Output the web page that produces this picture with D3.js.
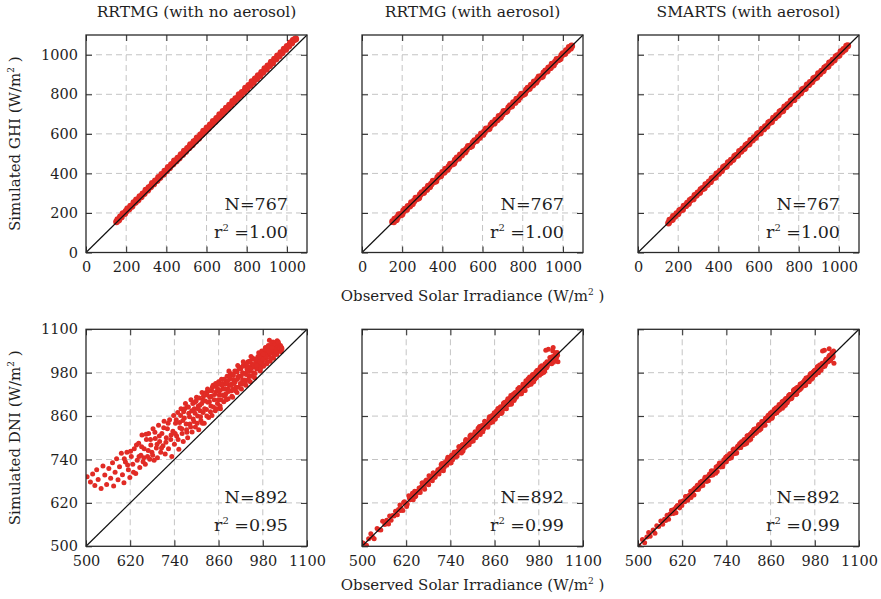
<!DOCTYPE html>
<html>
<head>
<meta charset="utf-8">
<script src="https://cdn.jsdelivr.net/npm/d3@7"></script>
<style>
  body { margin: 0; background: #fff; }
  svg { display: block; }
  text { font-family: "DejaVu Serif", serif; fill: #1f1f1f; }
</style>
</head>
<body>
<svg id="chart" width="881" height="599"></svg>
<script>
// ---- GHI (top row): observed vs. simulated, W/m2 ----
const ghiObserved = [
  152, 158, 163, 171, 176, 184, 193, 199, 207, 214,
  222, 229, 238, 246, 251, 259, 268, 275, 283, 290,
  298, 307, 313, 322, 330, 337, 345, 354, 361, 368,
  377, 385, 392, 401, 409, 416, 425, 433, 440, 449,
  457, 464, 473, 481, 489, 496, 505, 513, 520, 529,
  537, 546, 553, 561, 570, 578, 585, 594, 602, 609,
  618, 626, 633, 642, 650, 658, 665, 674, 682, 689,
  698, 706, 714, 721, 730, 738, 745, 754, 762, 770,
  777, 786, 794, 801, 810, 818, 826, 833, 842, 850,
  857, 866, 874, 881, 890, 898, 905, 914, 922, 929,
  938, 946, 953, 962, 970, 977, 986, 994, 1001, 1010,
  1017, 1024, 1031, 1038, 1044
];
const ghiRrtmgNoAerosol = [
  155, 166, 165, 180, 180, 196, 197, 208, 220, 220,
  234, 234, 252, 254, 266, 266, 283, 282, 297, 298,
  315, 315, 328, 333, 349, 347, 362, 364, 380, 379,
  395, 396, 411, 413, 430, 428, 444, 448, 463, 463,
  477, 478, 495, 496, 513, 511, 527, 530, 546, 545,
  561, 564, 579, 578, 595, 598, 614, 613, 630, 628,
  645, 647, 663, 662, 678, 680, 697, 695, 713, 712,
  730, 728, 745, 745, 764, 762, 778, 779, 798, 795,
  810, 812, 831, 827, 845, 845, 864, 860, 878, 879,
  895, 894, 911, 911, 930, 927, 944, 945, 963, 959,
  978, 978, 994, 994, 1011, 1010, 1029, 1027, 1042, 1044,
  1060, 1060, 1073, 1077, 1080
];
const ghiRrtmgAerosol = [
  156, 155, 169, 166, 177, 191, 191, 193, 210, 219,
  218, 233, 235, 252, 246, 260, 275, 273, 277, 293,
  303, 303, 317, 319, 336, 332, 346, 361, 359, 362,
  380, 390, 388, 405, 406, 422, 420, 434, 447, 447,
  451, 467, 478, 477, 493, 493, 511, 508, 521, 536,
  535, 540, 556, 566, 566, 582, 582, 600, 597, 610,
  625, 624, 627, 645, 655, 654, 669, 671, 688, 684,
  699, 713, 712, 715, 733, 743, 741, 758, 759, 776,
  772, 787, 801, 799, 804, 821, 831, 829, 846, 847,
  863, 861, 875, 888, 888, 892, 908, 919, 918, 933,
  935, 952, 948, 963, 977, 975, 980, 997, 1006, 1006,
  1021, 1021, 1037, 1033, 1045
];
const ghiSmartsAerosol = [
  149, 163, 165, 167, 182, 183, 196, 196, 212, 216,
  218, 235, 237, 249, 248, 264, 270, 271, 289, 289,
  301, 304, 318, 324, 326, 343, 344, 357, 358, 373,
  379, 381, 398, 400, 412, 413, 430, 435, 436, 455,
  456, 467, 470, 486, 491, 492, 511, 512, 523, 526,
  542, 548, 549, 567, 569, 581, 582, 599, 604, 605,
  624, 625, 636, 639, 655, 660, 661, 680, 681, 692,
  695, 711, 716, 717, 736, 737, 748, 751, 767, 772,
  773, 792, 793, 804, 807, 823, 828, 829, 848, 849,
  860, 863, 879, 883, 886, 904, 904, 917, 919, 934,
  940, 942, 959, 961, 973, 974, 991, 996, 997, 1016,
  1016, 1027, 1028, 1043, 1046
];

// ---- DNI (bottom row): observed vs. simulated, W/m2 ----
const dniObserved = [
  503, 512, 518, 524, 529, 533, 541, 546, 551, 556, 562, 567,
  572, 575, 579, 583, 587, 591, 596, 599, 603, 607, 611, 615, 619, 623, 627, 631, 635, 639,
  643, 646, 649, 652, 655, 658, 661, 664, 667, 670, 673, 676, 679, 682, 685, 688, 691,
  694, 697, 700, 703, 706, 709, 712, 715, 718, 721, 724, 727, 730, 733, 736, 738, 740,
  743, 746, 749, 752, 755, 758, 761, 764, 767, 770, 773, 776, 779, 782, 785, 788, 791,
  794, 797, 800, 803, 806, 809, 812, 815, 818, 821, 824, 827, 830, 833, 836, 839, 842,
  845, 848, 851, 854, 857, 860, 805, 817, 829, 841, 853, 765, 775, 795, 810, 835,
  862, 865, 868, 871, 874, 877, 880, 883, 886, 889, 892, 895, 898, 901, 904, 907, 910,
  913, 916, 919, 922, 925, 928, 931, 934, 937, 940, 943, 946, 949, 952, 955, 958,
  870, 880, 890, 900, 910, 920, 930, 940, 950, 885, 895, 905, 915, 925, 935, 945, 955,
  961, 964, 967, 970, 973, 976, 979, 982, 985, 988, 991, 994, 997, 1000, 1003, 1006,
  1009, 1012, 1015, 1018, 1021, 1024, 1027, 1030, 1032, 965, 975, 983, 993, 1002,
  1008, 1013, 1019, 1023, 998, 987, 978, 968, 990, 1011,
  604, 613, 621, 629, 637, 644, 651, 657, 663, 669, 675, 681, 687, 693, 699, 705, 711, 717, 723, 731,
  742, 745, 750, 754, 757, 760, 763, 768, 772, 774, 778, 781, 784, 787, 790, 793, 796, 799, 802, 804,
  807, 811, 814, 816, 819, 822, 826, 828, 831, 834, 838, 840, 843, 846, 849, 852, 855, 858, 859, 861,
  863, 866, 869, 872, 875, 878, 881, 884, 887, 891, 893, 896, 899, 902, 906, 909, 911, 914, 918, 921,
  923, 926, 929, 933, 936, 938, 941, 944, 947, 951, 953, 956, 959, 864, 876, 888, 899, 912, 927, 948,
  962, 966, 969, 972, 974, 977, 980, 984, 986, 989, 992, 995, 999, 1001, 1004, 1007, 1010, 1014, 1016, 1020,
  1022, 1025, 1028, 1029, 1031, 963, 971, 981, 996, 1005
];
const dniRrtmgNoAerosol = [
  692, 678, 700, 668, 712, 685, 660, 722, 697, 671, 715, 688,
  731, 667, 705, 742, 684, 720, 757, 698, 676, 733, 760, 712, 690, 748, 727, 770, 701, 738,
  785, 718, 752, 808, 734, 770, 727, 795, 748, 812, 741, 780, 760, 825, 738, 798, 772,
  745, 835, 790, 760, 812, 778, 846, 755, 800, 825, 770, 850, 795, 748, 818, 862, 782,
  840, 805, 870, 768, 828, 880, 812, 790, 855, 895, 822, 800, 868, 838, 905, 816, 852,
  880, 830, 912, 860, 822, 890, 848, 925, 870, 840, 902, 878, 935, 856, 912, 888, 862,
  945, 905, 875, 928, 895, 955, 888, 905, 918, 930, 942, 872, 885, 898, 875, 900,
  918, 880, 962, 935, 900, 948, 922, 970, 908, 945, 978, 930, 912, 960, 985, 940, 925,
  968, 995, 950, 935, 980, 1002, 960, 945, 990, 1010, 972, 955, 998, 1018, 980, 965,
  950, 958, 962, 972, 982, 990, 1000, 995, 1005, 935, 948, 955, 970, 960, 975, 985, 995,
  1010, 990, 1025, 1005, 985, 1032, 1012, 998, 1040, 1020, 1005, 1048, 1028, 1012, 1055, 1035,
  1020, 1062, 1045, 1030, 1058, 1040, 1050, 1038, 1046, 1015, 1020, 1028, 1035, 1042,
  1065, 1052, 1068, 1060, 1070, 1050, 1000, 998, 1030, 1048,
  742, 725, 763, 705, 780, 748, 775, 745, 810, 765, 795, 752, 815, 782, 805, 772, 828, 788, 840, 808,
  812, 850, 795, 842, 862, 825, 848, 880, 838, 815, 885, 858, 830, 875, 895, 845, 868, 902, 840, 880,
  910, 858, 895, 840, 915, 880, 925, 860, 898, 930, 872, 915, 940, 885, 920, 950, 880, 935, 905, 948,
  930, 905, 945, 918, 962, 935, 905, 955, 928, 968, 945, 915, 975, 950, 930, 985, 962, 940, 992, 970,
  948, 998, 978, 955, 1005, 985, 962, 1012, 990, 970, 1020, 1000, 978, 888, 915, 985, 935, 1000, 1010, 1025,
  1018, 995, 1035, 1010, 992, 1040, 1018, 1002, 1045, 1025, 1010, 1055, 1035, 1020, 1062, 1042, 1028, 1058, 1038, 1050,
  1065, 1048, 1055, 1040, 1050, 1000, 1025, 1032, 1040, 1050
];
const dniRrtmgAerosol = [
  509, 503, 521, 535, 525, 521, 549, 546, 545, 569, 560, 572,
  562, 584, 572, 585, 584, 597, 587, 602, 614, 603, 599, 623, 619, 617, 640, 629, 640, 629,
  652, 639, 651, 649, 661, 649, 664, 675, 663, 658, 681, 676, 673, 695, 683, 693, 681,
  703, 690, 702, 700, 712, 700, 715, 726, 714, 709, 732, 727, 724, 746, 734, 743, 730,
  752, 739, 751, 749, 761, 749, 764, 775, 763, 758, 781, 776, 773, 795, 783, 793, 781,
  803, 790, 802, 800, 812, 800, 815, 826, 814, 809, 832, 827, 824, 846, 834, 844, 832,
  854, 841, 853, 851, 863, 851, 808, 828, 825, 829, 861, 765, 769, 808, 808, 840,
  852, 874, 861, 873, 871, 883, 871, 886, 897, 885, 880, 903, 898, 895, 917, 905, 915,
  903, 925, 912, 924, 922, 934, 922, 937, 948, 936, 931, 954, 949, 946, 968, 956,
  875, 870, 899, 893, 912, 917, 936, 931, 953, 896, 891, 893, 923, 925, 929, 958, 953,
  966, 954, 976, 963, 975, 973, 985, 973, 988, 999, 987, 982, 1005, 1000, 997, 1045,
  1007, 1017, 1005, 1040, 1014, 1026, 1024, 1036, 1010, 968, 986, 979, 981, 1010,
  1008, 1007, 1050, 1021, 1003, 977, 987, 961, 992, 1008,
  599, 621, 610, 633, 647, 637, 652, 654, 675, 664, 683, 670, 691, 703, 692, 706, 708, 729, 718, 739,
  731, 749, 760, 747, 758, 757, 775, 763, 780, 763, 782, 791, 777, 788, 787, 805, 791, 807, 791, 808,
  817, 804, 815, 813, 831, 817, 834, 817, 835, 844, 831, 841, 840, 858, 844, 860, 844, 862, 869, 854,
  864, 863, 881, 867, 883, 867, 885, 894, 880, 892, 890, 908, 894, 910, 895, 913, 921, 907, 919, 918,
  935, 921, 937, 922, 940, 948, 934, 945, 944, 963, 948, 964, 948, 868, 886, 881, 900, 909, 939, 943,
  970, 955, 973, 982, 967, 978, 977, 996, 981, 997, 981, 999, 1042, 994, 1005, 1004, 1022, 1009, 1024, 1009,
  1026, 1035, 1021, 1030, 1028, 975, 966, 989, 985, 1009
];
const dniSmartsAerosol = [
  501, 519, 510, 526, 538, 528, 545, 536, 557, 555, 570, 561,
  575, 571, 586, 575, 589, 600, 591, 603, 593, 613, 610, 623, 613, 626, 623, 638, 627, 641,
  652, 641, 653, 642, 661, 657, 669, 658, 670, 666, 680, 668, 681, 691, 680, 692, 681,
  700, 696, 708, 697, 709, 705, 719, 707, 720, 730, 719, 731, 720, 739, 735, 746, 734,
  746, 742, 756, 744, 757, 767, 756, 768, 757, 776, 772, 784, 773, 785, 781, 795, 783,
  796, 806, 795, 807, 796, 815, 811, 823, 812, 824, 820, 834, 822, 835, 845, 834, 846,
  835, 854, 850, 862, 851, 863, 801, 824, 821, 843, 862, 760, 779, 785, 816, 834,
  870, 859, 871, 867, 881, 869, 882, 892, 881, 893, 882, 901, 897, 909, 898, 910, 906,
  920, 908, 921, 931, 920, 932, 921, 940, 936, 948, 937, 949, 945, 959, 947, 960,
  879, 875, 894, 890, 916, 919, 938, 934, 953, 881, 902, 897, 917, 934, 930, 949, 945,
  967, 963, 975, 964, 976, 972, 986, 974, 987, 997, 986, 998, 987, 1006, 1002, 1042,
  1003, 1015, 1011, 1025, 1013, 1026, 1036, 1025, 1006, 955, 981, 982, 1001, 996,
  1011, 1009, 1046, 1015, 1000, 996, 973, 972, 980, 1017,
  609, 606, 623, 638, 634, 635, 657, 657, 658, 677, 673, 686, 680, 695, 708, 702, 702, 723, 723, 726,
  750, 743, 755, 747, 759, 769, 760, 759, 778, 774, 773, 789, 782, 792, 783, 795, 805, 796, 793, 810,
  807, 806, 822, 814, 824, 815, 828, 837, 828, 825, 844, 840, 838, 854, 847, 857, 848, 860, 868, 858,
  854, 872, 869, 867, 883, 876, 886, 877, 889, 900, 890, 887, 905, 902, 901, 917, 909, 919, 911, 923,
  932, 923, 920, 939, 936, 933, 949, 942, 952, 944, 955, 965, 956, 855, 882, 888, 894, 920, 925, 953,
  955, 968, 978, 969, 965, 983, 980, 979, 994, 987, 997, 988, 1001, 1040, 1001, 998, 1016, 1014, 1011, 1028,
  1020, 1030, 1021, 1031, 1040, 960, 962, 987, 996, 1000
];

// ---- labels, ticks and fit statistics ----
const panelTitles = ["RRTMG (with no aerosol)", "RRTMG (with aerosol)", "SMARTS (with aerosol)"];
const ghiDomain = [0, 1100];
const ghiTicks = [0, 200, 400, 600, 800, 1000];
const dniDomain = [500, 1100];
const dniTicks = [500, 620, 740, 860, 980, 1100];
const ghiCounts = [767, 767, 767];
const ghiR2 = ["1.00", "1.00", "1.00"];
const dniCounts = [892, 892, 892];
const dniR2 = ["0.95", "0.99", "0.99"];

// ---- layout ----
const svg = d3.select("#chart");
const colLeft = [86, 362, 638];
const colW = 221;
const pointColor = "#e12b25";
const inkColor = "#2a2a2a";

const rowsCfg = [
  { obs: ghiObserved, sims: [ghiRrtmgNoAerosol, ghiRrtmgAerosol, ghiSmartsAerosol],
    domain: ghiDomain, ticks: ghiTicks, counts: ghiCounts, r2: ghiR2,
    yLabel: "Simulated GHI", top: 35, h: 217.5, r: 3.4, xLabelY: 301, titles: true },
  { obs: dniObserved, sims: [dniRrtmgNoAerosol, dniRrtmgAerosol, dniSmartsAerosol],
    domain: dniDomain, ticks: dniTicks, counts: dniCounts, r2: dniR2,
    yLabel: "Simulated DNI", top: 329.3, h: 217, r: 2.5, xLabelY: 590, titles: false }
];

const tickFmt = d3.format("d");

function styleAxis(sel, showText) {
  sel.select(".domain").remove();
  sel.selectAll(".tick line").attr("stroke", inkColor).attr("stroke-width", 1);
  sel.selectAll(".tick text")
    .attr("font-family", "DejaVu Serif, serif")
    .attr("font-size", "14.5px")
    .attr("fill", "#1f1f1f")
    .style("display", showText ? null : "none");
  sel.attr("font-family", null).attr("font-size", null);
}

rowsCfg.forEach((row, ri) => {
  row.sims.forEach((sim, ci) => {
    const g = svg.append("g").attr("transform", `translate(${colLeft[ci]},${row.top})`);
    const x = d3.scaleLinear().domain(row.domain).range([0, colW]);
    const y = d3.scaleLinear().domain(row.domain).range([row.h, 0]);
    const inner = row.ticks.filter(t => t > row.domain[0] && t < row.domain[1]);

    // dashed grid
    const grid = g.append("g").attr("stroke", "#c4c4c4").attr("stroke-width", 1)
      .attr("stroke-dasharray", "6,4");
    grid.selectAll("line.gx").data(inner).join("line").attr("class", "gx")
      .attr("x1", d => x(d)).attr("x2", d => x(d)).attr("y1", 0).attr("y2", row.h);
    grid.selectAll("line.gy").data(inner).join("line").attr("class", "gy")
      .attr("y1", d => y(d)).attr("y2", d => y(d)).attr("x1", 0).attr("x2", colW);

    // scatter points
    const clipId = `clip-${ri}-${ci}`;
    g.append("clipPath").attr("id", clipId)
      .append("rect").attr("width", colW).attr("height", row.h);
    g.append("g").attr("clip-path", `url(#${clipId})`)
      .selectAll("circle").data(d3.zip(row.obs, sim)).join("circle")
      .attr("cx", d => x(d[0])).attr("cy", d => y(d[1]))
      .attr("r", row.r).attr("fill", pointColor);

    // 1:1 line
    g.append("line")
      .attr("x1", x(row.domain[0])).attr("y1", y(row.domain[0]))
      .attr("x2", x(row.domain[1])).attr("y2", y(row.domain[1]))
      .attr("stroke", "#111").attr("stroke-width", 1.2);

    // inward ticks on all four sides
    g.append("g").attr("transform", `translate(0,${row.h})`)
      .call(d3.axisBottom(x).tickValues(row.ticks).tickFormat(tickFmt)
        .tickSizeInner(-6).tickSizeOuter(0).tickPadding(9))
      .call(s => styleAxis(s, true));
    g.append("g")
      .call(d3.axisTop(x).tickValues(row.ticks).tickSizeInner(-6).tickSizeOuter(0))
      .call(s => styleAxis(s, false));
    g.append("g")
      .call(d3.axisLeft(y).tickValues(row.ticks).tickFormat(tickFmt)
        .tickSizeInner(-6).tickSizeOuter(0).tickPadding(8))
      .call(s => styleAxis(s, ci === 0));
    g.append("g").attr("transform", `translate(${colW},0)`)
      .call(d3.axisRight(y).tickValues(row.ticks).tickSizeInner(-6).tickSizeOuter(0))
      .call(s => styleAxis(s, false));

    // frame
    g.append("rect").attr("width", colW).attr("height", row.h)
      .attr("fill", "none").attr("stroke", inkColor).attr("stroke-width", 1.3);

    // statistics
    const stats = g.append("g").attr("font-size", "17.5px").attr("text-anchor", "end");
    stats.append("text").attr("x", colW - 19).attr("y", row.h - 43)
      .text(`N=${row.counts[ci]}`);
    const r2 = stats.append("text").attr("x", colW - 19).attr("y", row.h - 15);
    r2.append("tspan").text("r");
    r2.append("tspan").attr("dy", -7).attr("font-size", "10px").text("2");
    r2.append("tspan").attr("dy", 7).text(` =${row.r2[ci]}`);

    if (row.titles) {
      svg.append("text").attr("x", colLeft[ci] + colW / 2).attr("y", 17)
        .attr("text-anchor", "middle").attr("font-size", "15.5px").text(panelTitles[ci]);
    }
  });

  // x axis label under the middle panel
  const xl = svg.append("text").attr("x", colLeft[1] + colW / 2).attr("y", row.xLabelY)
    .attr("text-anchor", "middle").attr("font-size", "15px");
  xl.append("tspan").text("Observed Solar Irradiance (W/m");
  xl.append("tspan").attr("dy", -6).attr("font-size", "9px").text("2");
  xl.append("tspan").attr("dy", 6).text(" )");

  // y axis label
  const yc = row.top + row.h / 2;
  const yl = svg.append("text").attr("transform", `translate(20,${yc}) rotate(-90)`)
    .attr("text-anchor", "middle").attr("font-size", "15px");
  yl.append("tspan").text(`${row.yLabel} (W/m`);
  yl.append("tspan").attr("dy", -6).attr("font-size", "9px").text("2");
  yl.append("tspan").attr("dy", 6).text(" )");
});
</script>
</body>
</html>
